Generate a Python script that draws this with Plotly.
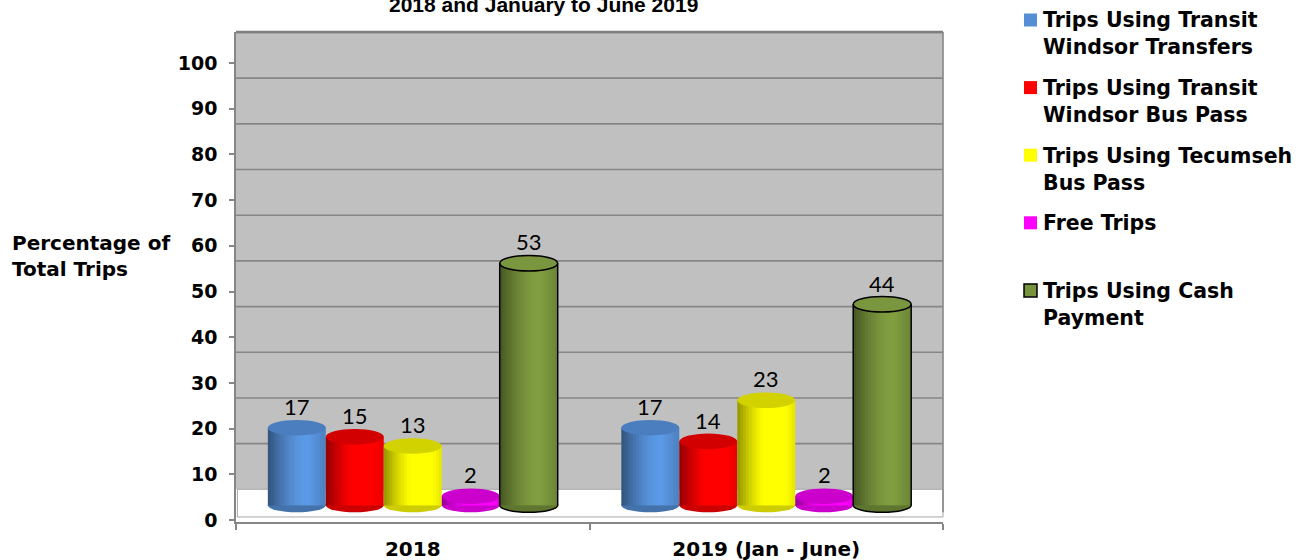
import math
import plotly.graph_objects as go

# ---- data -------------------------------------------------------------
periods = ["2018", "2019 (Jan - June)"]
series_names = [
    "Trips Using Transit<br>Windsor Transfers",
    "Trips Using Transit<br>Windsor Bus Pass",
    "Trips Using Tecumseh<br>Bus Pass",
    "Free Trips",
    "Trips Using Cash<br>Payment",
]
transfers = [17, 17]
bus_pass = [15, 14]
tecumseh = [13, 23]
free_trips = [2, 2]
cash_payment = [53, 44]
y_ticks = [0, 10, 20, 30, 40, 50, 60, 70, 80, 90, 100]

series_values = [transfers, bus_pass, tecumseh, free_trips, cash_payment]

# ---- style ------------------------------------------------------------
base_colors = ["#558ED5", "#FF0000", "#FFFF00", "#FF00FF", "#77933C"]
cap_colors = ["#4A7EBF", "#D20000", "#D2D200", "#CC00CC", "#7A963F"]
outline_colors = [None, None, None, None, "#000000"]
GRID = "#868686"
WIDE = "DejaVu Sans"
TITLE_FONT = "Liberation Sans"

W, H = 1310, 560
M_L, M_R, M_T, M_B = 236, 367, 32, 38
PW, PH = W - M_L - M_R, H - M_T - M_B

FLOOR = 3.2          # cylinders stand on the raised floor of the 3-D box
WALL_SHIFT = 6.7     # back-wall gridlines sit above the axis ticks
CAP_RY = 1.7         # half-height of the elliptical caps (axis units)
SLOT = 0.164         # width of one cylinder (x units)
N_STRIPS = 20


def px_x(px):
    return (px - M_L) / PW


def px_y(py):
    return (H - M_B - py) / PH


def shade(hex_color, f):
    r, g, b = (int(hex_color[i:i + 2], 16) for i in (1, 3, 5))
    c = [min(255, max(0, round(v * f))) for v in (r, g, b)]
    return "rgb(%d,%d,%d)" % tuple(c)


def light(t):
    # horizontal lighting across a cylinder: dark left edge, highlight ~70 %
    if t <= 0.7:
        return 0.58 + 0.50 * math.sin(math.pi / 2 * t / 0.7)
    return 1.08 - 0.18 * (t - 0.7) / 0.3


fig = go.Figure()
shapes = []
annotations = []

# back wall gridlines and floor of the 3-D box
for v in y_ticks[1:]:
    shapes.append(dict(type="line", xref="paper", yref="y", x0=0, x1=1,
                       y0=v + WALL_SHIFT, y1=v + WALL_SHIFT,
                       line=dict(color=GRID, width=1.6), layer="between"))
shapes.append(dict(type="rect", xref="paper", yref="y", x0=0, x1=1,
                   y0=-0.45, y1=WALL_SHIFT, fillcolor="white",
                   line=dict(width=0), layer="between"))
shapes.append(dict(type="rect", xref="paper", yref="y", x0=0.002, x1=1,
                   y0=0.65, y1=WALL_SHIFT, fillcolor="white",
                   line=dict(color="#A6A6A6", width=1), layer="between"))
shapes.append(dict(type="line", xref="paper", yref="paper", x0=1, x1=1,
                   y0=0.02, y1=1, line=dict(color=GRID, width=1.6),
                   layer="between"))
shapes.append(dict(type="line", xref="paper", yref="paper", x0=0, x1=1,
                   y0=1, y1=1, line=dict(color="#7F7F7F", width=2.5),
                   layer="between"))

w = SLOT / N_STRIPS
for i, (vals, col) in enumerate(zip(series_values, base_colors)):
    off0 = -2.5 * SLOT + i * SLOT
    xs, ys, bases, offs, widths, cols = [], [], [], [], [], []
    for p, v in enumerate(vals):
        for k in range(N_STRIPS):
            t = (k + 0.5) / N_STRIPS
            xs.append(p)
            ys.append(v)
            bases.append(FLOOR)
            offs.append(off0 + k * w)
            # strips overlap slightly so no seams show between them
            widths.append(w * (1.6 if k < N_STRIPS - 1 else 1.0))
            cols.append(shade(col, light(t)))
    fig.add_trace(go.Bar(
        x=xs, y=ys, base=bases, offset=offs, width=widths,
        marker=dict(color=cols, line=dict(width=0)),
        name=series_names[i].replace("<br>", " "),
        showlegend=False, hoverinfo="skip"))

    line_col = outline_colors[i]
    for p, v in enumerate(vals):
        x0 = p + off0
        x1 = x0 + SLOT
        top = FLOOR + v
        # rounded bottom of the cylinder
        shapes.append(dict(type="circle", xref="x", yref="y",
                           x0=x0, x1=x1, y0=FLOOR - CAP_RY * 0.9,
                           y1=FLOOR + CAP_RY * 0.9,
                           fillcolor=shade(col, 0.8),
                           line=dict(color=line_col or "rgba(0,0,0,0)",
                                     width=1.5 if line_col else 0),
                           layer="between"))
        # top cap
        shapes.append(dict(type="circle", xref="x", yref="y",
                           x0=x0, x1=x1, y0=top - CAP_RY, y1=top + CAP_RY,
                           fillcolor=cap_colors[i],
                           line=dict(color=line_col or "rgba(0,0,0,0)",
                                     width=1.5 if line_col else 0),
                           layer="above"))
        if line_col:
            for xe in (x0, x1):
                shapes.append(dict(type="line", xref="x", yref="y",
                                   x0=xe, x1=xe, y0=FLOOR, y1=top,
                                   line=dict(color=line_col, width=1.5),
                                   layer="above"))
        annotations.append(dict(
            x=(x0 + x1) / 2, y=top + CAP_RY, xref="x", yref="y",
            text=str(v), showarrow=False, yanchor="bottom", yshift=-2,
            font=dict(family="Lato", size=22, color="#000000")))

# legend: colour key squares with two-line captions
LEG_SQ_X, LEG_TXT_X, LEG_Y0, LEG_STEP = 1024, 1041, 20, 67.6
for i, name in enumerate(series_names):
    yc = LEG_Y0 + i * LEG_STEP
    shapes.append(dict(type="rect", xref="paper", yref="paper",
                       x0=px_x(LEG_SQ_X), x1=px_x(LEG_SQ_X + 13),
                       y0=px_y(yc + 6.5), y1=px_y(yc - 6.5),
                       fillcolor=base_colors[i],
                       line=dict(color=outline_colors[i] or base_colors[i],
                                 width=1.5 if outline_colors[i] else 0),
                       layer="above"))
    two_lines = "<br>" in name
    annotations.append(dict(
        x=px_x(LEG_TXT_X), y=px_y(yc + 13.8 if two_lines else yc),
        xref="paper", yref="paper", xanchor="left", yanchor="middle",
        align="left", text="<b>%s</b>" % name, showarrow=False,
        font=dict(family=WIDE, size=20.5, color="#000000")))

# title and axis caption
annotations.append(dict(
    x=px_x(543), y=1, xref="paper", yref="paper", yanchor="middle",
    yshift=28, text="<b>2018 and January to June 2019</b>",
    showarrow=False, font=dict(family=TITLE_FONT, size=21, color="#000000")))
annotations.append(dict(
    x=px_x(10), y=px_y(256), xref="paper", yref="paper", xanchor="left",
    yanchor="middle", align="left",
    text="<b>Percentage of<br>Total Trips</b>", showarrow=False,
    font=dict(family=WIDE, size=20, color="#000000")))

fig.update_layout(
    width=W, height=H,
    margin=dict(l=M_L, r=M_R, t=M_T, b=M_B, autoexpand=False),
    paper_bgcolor="white", plot_bgcolor="#C0C0C0",
    barmode="overlay", showlegend=False,
    shapes=shapes, annotations=annotations,
    xaxis=dict(range=[-0.5, 1.5], tickvals=[0, 1], ticktext=periods,
               ticks="", showgrid=False, zeroline=False, automargin=False,
               showline=True, linecolor=GRID, linewidth=1.5,
               ticklabelstandoff=8,
               tickfont=dict(family=WIDE, size=20, color="#000000",
                             weight="bold"),
               minor=dict(tickvals=[-0.5, 0.5, 1.5], ticks="outside",
                          ticklen=6, tickcolor=GRID, tickwidth=1.5)),
    yaxis=dict(range=[-0.45, 106.8], tickvals=y_ticks,
               ticks="outside", ticklen=5, tickcolor=GRID, tickwidth=1.5,
               showgrid=False, zeroline=False, automargin=False,
               showline=True, linecolor=GRID, linewidth=1.5,
               ticklabelstandoff=8,
               tickfont=dict(family=WIDE, size=19, color="#000000",
                             weight="bold")),
)

fig.write_html("out.html")
